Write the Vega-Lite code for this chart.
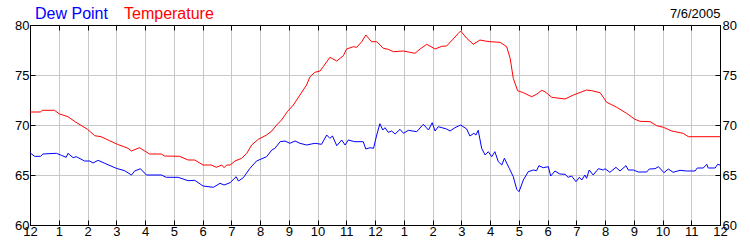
{
  "$schema": "https://vega.github.io/schema/vega-lite/v6.json",
  "width": 690,
  "height": 200,
  "autosize": {"type": "none"},
  "padding": {"left": 30, "top": 25, "right": 30, "bottom": 25},
  "background": "white",
  "config": {
    "view": {"stroke": null},
    "font": "Liberation Sans",
    "axis": {
      "labelFont": "Liberation Sans",
      "labelFontSize": 13,
      "labelColor": "#000000",
      "domainColor": "#000000",
      "domainWidth": 1,
      "tickColor": "#000000",
      "tickSize": -5,
      "tickWidth": 1,
      "gridWidth": 1,
      "labelFlush": false,
      "labelOverlap": false,
      "labelBound": false,
      "title": null
    }
  },
  "datasets": {
    "weather": [
      {"hour": 0, "series": "Temperature", "value": 71.3},
      {"hour": 0.37, "series": "Temperature", "value": 71.3},
      {"hour": 0.42, "series": "Temperature", "value": 71.47},
      {"hour": 0.85, "series": "Temperature", "value": 71.47},
      {"hour": 1.03, "series": "Temperature", "value": 71.1},
      {"hour": 1.32, "series": "Temperature", "value": 70.83},
      {"hour": 1.6, "series": "Temperature", "value": 70.27},
      {"hour": 2.0, "series": "Temperature", "value": 69.57},
      {"hour": 2.25, "series": "Temperature", "value": 68.93},
      {"hour": 2.47, "series": "Temperature", "value": 68.83},
      {"hour": 2.77, "series": "Temperature", "value": 68.43},
      {"hour": 3.04, "series": "Temperature", "value": 68.07},
      {"hour": 3.41, "series": "Temperature", "value": 67.67},
      {"hour": 3.53, "series": "Temperature", "value": 67.4},
      {"hour": 3.81, "series": "Temperature", "value": 67.73},
      {"hour": 3.99, "series": "Temperature", "value": 67.4},
      {"hour": 4.16, "series": "Temperature", "value": 67.1},
      {"hour": 4.57, "series": "Temperature", "value": 67.1},
      {"hour": 4.68, "series": "Temperature", "value": 66.9},
      {"hour": 5.2, "series": "Temperature", "value": 66.87},
      {"hour": 5.5, "series": "Temperature", "value": 66.5},
      {"hour": 5.73, "series": "Temperature", "value": 66.5},
      {"hour": 6.02, "series": "Temperature", "value": 66.0},
      {"hour": 6.3, "series": "Temperature", "value": 66.0},
      {"hour": 6.49, "series": "Temperature", "value": 65.77},
      {"hour": 6.67, "series": "Temperature", "value": 66.0},
      {"hour": 6.75, "series": "Temperature", "value": 65.73},
      {"hour": 6.84, "series": "Temperature", "value": 66.0},
      {"hour": 6.96, "series": "Temperature", "value": 66.0},
      {"hour": 7.13, "series": "Temperature", "value": 66.4},
      {"hour": 7.36, "series": "Temperature", "value": 66.67},
      {"hour": 7.54, "series": "Temperature", "value": 67.17},
      {"hour": 7.71, "series": "Temperature", "value": 68.0},
      {"hour": 7.94, "series": "Temperature", "value": 68.57},
      {"hour": 8.23, "series": "Temperature", "value": 69.0},
      {"hour": 8.41, "series": "Temperature", "value": 69.4},
      {"hour": 8.58, "series": "Temperature", "value": 70.0},
      {"hour": 8.75, "series": "Temperature", "value": 70.5},
      {"hour": 8.95, "series": "Temperature", "value": 71.33},
      {"hour": 9.16, "series": "Temperature", "value": 72.0},
      {"hour": 9.39, "series": "Temperature", "value": 73.0},
      {"hour": 9.62, "series": "Temperature", "value": 74.0},
      {"hour": 9.74, "series": "Temperature", "value": 74.83},
      {"hour": 9.91, "series": "Temperature", "value": 75.27},
      {"hour": 10.09, "series": "Temperature", "value": 75.4},
      {"hour": 10.2, "series": "Temperature", "value": 75.83},
      {"hour": 10.43, "series": "Temperature", "value": 76.77},
      {"hour": 10.67, "series": "Temperature", "value": 76.4},
      {"hour": 10.9, "series": "Temperature", "value": 76.93},
      {"hour": 11.01, "series": "Temperature", "value": 77.6},
      {"hour": 11.25, "series": "Temperature", "value": 77.83},
      {"hour": 11.36, "series": "Temperature", "value": 77.77},
      {"hour": 11.54, "series": "Temperature", "value": 78.33},
      {"hour": 11.68, "series": "Temperature", "value": 79.0},
      {"hour": 11.88, "series": "Temperature", "value": 78.33},
      {"hour": 12.06, "series": "Temperature", "value": 78.33},
      {"hour": 12.29, "series": "Temperature", "value": 77.67},
      {"hour": 12.46, "series": "Temperature", "value": 77.57},
      {"hour": 12.64, "series": "Temperature", "value": 77.33},
      {"hour": 12.99, "series": "Temperature", "value": 77.4},
      {"hour": 13.22, "series": "Temperature", "value": 77.27},
      {"hour": 13.39, "series": "Temperature", "value": 77.17},
      {"hour": 13.57, "series": "Temperature", "value": 77.6},
      {"hour": 13.8, "series": "Temperature", "value": 78.07},
      {"hour": 14.09, "series": "Temperature", "value": 77.6},
      {"hour": 14.32, "series": "Temperature", "value": 77.87},
      {"hour": 14.49, "series": "Temperature", "value": 77.9},
      {"hour": 14.72, "series": "Temperature", "value": 78.6},
      {"hour": 14.9, "series": "Temperature", "value": 79.17},
      {"hour": 14.98, "series": "Temperature", "value": 79.4},
      {"hour": 15.19, "series": "Temperature", "value": 78.67},
      {"hour": 15.42, "series": "Temperature", "value": 78.07},
      {"hour": 15.65, "series": "Temperature", "value": 78.5},
      {"hour": 15.83, "series": "Temperature", "value": 78.4},
      {"hour": 16.0, "series": "Temperature", "value": 78.33},
      {"hour": 16.35, "series": "Temperature", "value": 78.27},
      {"hour": 16.58, "series": "Temperature", "value": 77.83},
      {"hour": 16.7, "series": "Temperature", "value": 76.67},
      {"hour": 16.81, "series": "Temperature", "value": 74.67},
      {"hour": 16.96, "series": "Temperature", "value": 73.43},
      {"hour": 17.16, "series": "Temperature", "value": 73.23},
      {"hour": 17.45, "series": "Temperature", "value": 72.83},
      {"hour": 17.62, "series": "Temperature", "value": 73.07},
      {"hour": 17.8, "series": "Temperature", "value": 73.47},
      {"hour": 17.91, "series": "Temperature", "value": 73.33},
      {"hour": 18.15, "series": "Temperature", "value": 72.77},
      {"hour": 18.61, "series": "Temperature", "value": 72.6},
      {"hour": 18.9, "series": "Temperature", "value": 73.0},
      {"hour": 19.36, "series": "Temperature", "value": 73.5},
      {"hour": 19.54, "series": "Temperature", "value": 73.43},
      {"hour": 19.83, "series": "Temperature", "value": 73.23},
      {"hour": 20.06, "series": "Temperature", "value": 72.27},
      {"hour": 20.41, "series": "Temperature", "value": 71.77},
      {"hour": 20.75, "series": "Temperature", "value": 71.17},
      {"hour": 21.04, "series": "Temperature", "value": 70.57},
      {"hour": 21.22, "series": "Temperature", "value": 70.37},
      {"hour": 21.57, "series": "Temperature", "value": 70.33},
      {"hour": 21.8, "series": "Temperature", "value": 69.93},
      {"hour": 22.03, "series": "Temperature", "value": 69.77},
      {"hour": 22.32, "series": "Temperature", "value": 69.4},
      {"hour": 22.72, "series": "Temperature", "value": 69.17},
      {"hour": 22.9, "series": "Temperature", "value": 68.83},
      {"hour": 24, "series": "Temperature", "value": 68.83},
      {"hour": 0, "series": "Dew Point", "value": 67.23},
      {"hour": 0.16, "series": "Dew Point", "value": 66.87},
      {"hour": 0.37, "series": "Dew Point", "value": 66.87},
      {"hour": 0.45, "series": "Dew Point", "value": 67.1},
      {"hour": 0.92, "series": "Dew Point", "value": 67.17},
      {"hour": 1.09, "series": "Dew Point", "value": 66.97},
      {"hour": 1.26, "series": "Dew Point", "value": 66.77},
      {"hour": 1.32, "series": "Dew Point", "value": 67.17},
      {"hour": 1.5, "series": "Dew Point", "value": 66.73},
      {"hour": 1.61, "series": "Dew Point", "value": 66.83},
      {"hour": 1.9, "series": "Dew Point", "value": 66.4},
      {"hour": 2.08, "series": "Dew Point", "value": 66.4},
      {"hour": 2.19, "series": "Dew Point", "value": 66.2},
      {"hour": 2.37, "series": "Dew Point", "value": 66.47},
      {"hour": 2.6, "series": "Dew Point", "value": 66.17},
      {"hour": 3.0, "series": "Dew Point", "value": 65.67},
      {"hour": 3.29, "series": "Dew Point", "value": 65.43},
      {"hour": 3.53, "series": "Dew Point", "value": 65.0},
      {"hour": 3.64, "series": "Dew Point", "value": 65.4},
      {"hour": 3.84, "series": "Dew Point", "value": 65.63},
      {"hour": 4.05, "series": "Dew Point", "value": 65.0},
      {"hour": 4.57, "series": "Dew Point", "value": 65.0},
      {"hour": 4.74, "series": "Dew Point", "value": 64.77},
      {"hour": 5.15, "series": "Dew Point", "value": 64.77},
      {"hour": 5.5, "series": "Dew Point", "value": 64.43},
      {"hour": 5.73, "series": "Dew Point", "value": 64.47},
      {"hour": 6.02, "series": "Dew Point", "value": 63.9},
      {"hour": 6.38, "series": "Dew Point", "value": 63.77},
      {"hour": 6.61, "series": "Dew Point", "value": 64.17},
      {"hour": 6.75, "series": "Dew Point", "value": 64.0},
      {"hour": 6.96, "series": "Dew Point", "value": 64.23},
      {"hour": 7.17, "series": "Dew Point", "value": 64.83},
      {"hour": 7.25, "series": "Dew Point", "value": 64.4},
      {"hour": 7.42, "series": "Dew Point", "value": 64.73},
      {"hour": 7.65, "series": "Dew Point", "value": 65.67},
      {"hour": 7.88, "series": "Dew Point", "value": 66.4},
      {"hour": 8.23, "series": "Dew Point", "value": 66.83},
      {"hour": 8.41, "series": "Dew Point", "value": 67.5},
      {"hour": 8.52, "series": "Dew Point", "value": 67.67},
      {"hour": 8.7, "series": "Dew Point", "value": 68.33},
      {"hour": 8.87, "series": "Dew Point", "value": 68.4},
      {"hour": 9.04, "series": "Dew Point", "value": 68.17},
      {"hour": 9.22, "series": "Dew Point", "value": 68.4},
      {"hour": 9.39, "series": "Dew Point", "value": 68.17},
      {"hour": 9.62, "series": "Dew Point", "value": 68.0},
      {"hour": 9.91, "series": "Dew Point", "value": 68.17},
      {"hour": 10.14, "series": "Dew Point", "value": 68.07},
      {"hour": 10.32, "series": "Dew Point", "value": 69.0},
      {"hour": 10.43, "series": "Dew Point", "value": 68.67},
      {"hour": 10.52, "series": "Dew Point", "value": 68.9},
      {"hour": 10.67, "series": "Dew Point", "value": 67.93},
      {"hour": 10.84, "series": "Dew Point", "value": 68.5},
      {"hour": 10.96, "series": "Dew Point", "value": 68.0},
      {"hour": 11.07, "series": "Dew Point", "value": 68.5},
      {"hour": 11.3, "series": "Dew Point", "value": 68.33},
      {"hour": 11.59, "series": "Dew Point", "value": 68.33},
      {"hour": 11.68, "series": "Dew Point", "value": 67.6},
      {"hour": 11.83, "series": "Dew Point", "value": 67.73},
      {"hour": 11.95, "series": "Dew Point", "value": 67.67},
      {"hour": 12.06, "series": "Dew Point", "value": 69.0},
      {"hour": 12.17, "series": "Dew Point", "value": 70.13},
      {"hour": 12.27, "series": "Dew Point", "value": 69.5},
      {"hour": 12.35, "series": "Dew Point", "value": 69.73},
      {"hour": 12.46, "series": "Dew Point", "value": 69.27},
      {"hour": 12.58, "series": "Dew Point", "value": 69.4},
      {"hour": 12.7, "series": "Dew Point", "value": 69.1},
      {"hour": 12.87, "series": "Dew Point", "value": 69.57},
      {"hour": 12.99, "series": "Dew Point", "value": 69.17},
      {"hour": 13.16, "series": "Dew Point", "value": 69.47},
      {"hour": 13.45, "series": "Dew Point", "value": 69.33},
      {"hour": 13.68, "series": "Dew Point", "value": 70.07},
      {"hour": 13.86, "series": "Dew Point", "value": 69.5},
      {"hour": 13.99, "series": "Dew Point", "value": 70.23},
      {"hour": 14.09, "series": "Dew Point", "value": 69.4},
      {"hour": 14.2, "series": "Dew Point", "value": 69.83},
      {"hour": 14.49, "series": "Dew Point", "value": 69.6},
      {"hour": 14.61, "series": "Dew Point", "value": 69.4},
      {"hour": 14.78, "series": "Dew Point", "value": 69.73},
      {"hour": 14.98, "series": "Dew Point", "value": 70.0},
      {"hour": 15.19, "series": "Dew Point", "value": 69.6},
      {"hour": 15.3, "series": "Dew Point", "value": 68.9},
      {"hour": 15.44, "series": "Dew Point", "value": 69.17},
      {"hour": 15.51, "series": "Dew Point", "value": 69.0},
      {"hour": 15.59, "series": "Dew Point", "value": 69.47},
      {"hour": 15.71, "series": "Dew Point", "value": 67.67},
      {"hour": 15.83, "series": "Dew Point", "value": 67.0},
      {"hour": 15.94, "series": "Dew Point", "value": 67.33},
      {"hour": 16.06, "series": "Dew Point", "value": 66.83},
      {"hour": 16.17, "series": "Dew Point", "value": 67.33},
      {"hour": 16.29, "series": "Dew Point", "value": 66.33},
      {"hour": 16.41, "series": "Dew Point", "value": 66.0},
      {"hour": 16.5, "series": "Dew Point", "value": 66.67},
      {"hour": 16.67, "series": "Dew Point", "value": 65.67},
      {"hour": 16.81, "series": "Dew Point", "value": 64.83},
      {"hour": 16.93, "series": "Dew Point", "value": 63.57},
      {"hour": 17.01, "series": "Dew Point", "value": 63.33},
      {"hour": 17.16, "series": "Dew Point", "value": 64.5},
      {"hour": 17.33, "series": "Dew Point", "value": 65.33},
      {"hour": 17.51, "series": "Dew Point", "value": 65.5},
      {"hour": 17.62, "series": "Dew Point", "value": 65.43},
      {"hour": 17.7, "series": "Dew Point", "value": 65.93},
      {"hour": 17.85, "series": "Dew Point", "value": 65.73},
      {"hour": 18.03, "series": "Dew Point", "value": 65.83},
      {"hour": 18.11, "series": "Dew Point", "value": 64.9},
      {"hour": 18.26, "series": "Dew Point", "value": 65.4},
      {"hour": 18.43, "series": "Dew Point", "value": 65.1},
      {"hour": 18.61, "series": "Dew Point", "value": 65.07},
      {"hour": 18.72, "series": "Dew Point", "value": 64.77},
      {"hour": 18.84, "series": "Dew Point", "value": 64.9},
      {"hour": 18.99, "series": "Dew Point", "value": 64.33},
      {"hour": 19.11, "series": "Dew Point", "value": 64.77},
      {"hour": 19.19, "series": "Dew Point", "value": 64.5},
      {"hour": 19.3, "series": "Dew Point", "value": 65.0},
      {"hour": 19.36, "series": "Dew Point", "value": 64.67},
      {"hour": 19.45, "series": "Dew Point", "value": 65.5},
      {"hour": 19.59, "series": "Dew Point", "value": 65.0},
      {"hour": 19.77, "series": "Dew Point", "value": 65.63},
      {"hour": 19.94, "series": "Dew Point", "value": 65.5},
      {"hour": 20.0, "series": "Dew Point", "value": 65.63},
      {"hour": 20.17, "series": "Dew Point", "value": 65.27},
      {"hour": 20.38, "series": "Dew Point", "value": 65.77},
      {"hour": 20.52, "series": "Dew Point", "value": 65.4},
      {"hour": 20.73, "series": "Dew Point", "value": 65.93},
      {"hour": 20.81, "series": "Dew Point", "value": 65.5},
      {"hour": 20.99, "series": "Dew Point", "value": 65.5},
      {"hour": 21.16, "series": "Dew Point", "value": 65.3},
      {"hour": 21.45, "series": "Dew Point", "value": 65.3},
      {"hour": 21.54, "series": "Dew Point", "value": 65.6},
      {"hour": 21.74, "series": "Dew Point", "value": 65.63},
      {"hour": 21.86, "series": "Dew Point", "value": 65.83},
      {"hour": 22.05, "series": "Dew Point", "value": 65.23},
      {"hour": 22.2, "series": "Dew Point", "value": 65.6},
      {"hour": 22.37, "series": "Dew Point", "value": 65.27},
      {"hour": 22.61, "series": "Dew Point", "value": 65.47},
      {"hour": 22.84, "series": "Dew Point", "value": 65.4},
      {"hour": 23.13, "series": "Dew Point", "value": 65.4},
      {"hour": 23.21, "series": "Dew Point", "value": 65.7},
      {"hour": 23.42, "series": "Dew Point", "value": 65.7},
      {"hour": 23.54, "series": "Dew Point", "value": 66.07},
      {"hour": 23.59, "series": "Dew Point", "value": 65.7},
      {"hour": 23.83, "series": "Dew Point", "value": 65.7},
      {"hour": 23.92, "series": "Dew Point", "value": 66.07},
      {"hour": 24, "series": "Dew Point", "value": 66.0}
    ]
  },
  "data": {"name": "weather"},
  "layer": [
    {
      "transform": [{"filter": "datum.series === 'Dew Point'"}],
      "mark": {"type": "line", "strokeWidth": 1, "interpolate": "linear"},
      "encoding": {
        "x": {
          "field": "hour", "type": "quantitative",
          "scale": {"domain": [0, 24], "nice": false, "zero": false},
          "axis": {
            "orient": "bottom",
            "values": [0,1,2,3,4,5,6,7,8,9,10,11,12,13,14,15,16,17,18,19,20,21,22,23,24],
            "labelExpr": "datum.value % 12 === 0 ? '12' : '' + (datum.value % 12)",
            "grid": true,
            "gridColor": {"condition": {"test": "datum.value === 0 || datum.value === 24", "value": "#000000"}, "value": "#c8c8c8"},
            "labelPadding": 5
          }
        },
        "y": {
          "field": "value", "type": "quantitative",
          "scale": {"domain": [60, 80], "nice": false, "zero": false},
          "axis": {
            "orient": "left",
            "values": [60, 65, 70, 75, 80],
            "grid": true,
            "gridColor": {"condition": {"test": "datum.value === 60 || datum.value === 80", "value": "#000000"}, "value": "#c8c8c8"},
            "labelPadding": 6
          }
        },
        "color": {
          "field": "series", "type": "nominal",
          "scale": {"domain": ["Dew Point", "Temperature"], "range": ["#0000ff", "#ff0000"]},
          "legend": {
            "orient": "none",
            "legendX": -11,
            "legendY": -19,
            "direction": "horizontal",
            "title": null,
            "symbolSize": 0,
            "symbolStrokeWidth": 0,
            "symbolOpacity": 0,
            "labelOffset": 0,
            "columnPadding": 0,
            "gridAlign": "none",
            "padding": 0,
            "labelFont": "Liberation Sans",
            "labelFontSize": 16,
            "encode": {
              "labels": {
                "update": {
                  "fill": {"signal": "datum.label === 'Dew Point' ? '#0000ff' : '#ff0000'"}
                }
              }
            }
          }
        }
      }
    },
    {
      "transform": [{"filter": "datum.series === 'Temperature'"}],
      "mark": {"type": "line", "strokeWidth": 1, "interpolate": "linear"},
      "encoding": {
        "x": {
          "field": "hour", "type": "quantitative",
          "scale": {"domain": [0, 24], "nice": false, "zero": false},
          "axis": {
            "orient": "top",
            "values": [0,1,2,3,4,5,6,7,8,9,10,11,12,13,14,15,16,17,18,19,20,21,22,23,24],
            "labels": false,
            "grid": false,
            "title": "7/6/2005",
            "titleFont": "Liberation Sans",
            "titleFontSize": 13,
            "titleFontWeight": "normal",
            "titleColor": "#000000",
            "titleAnchor": "end",
            "titleAlign": "right",
            "titlePadding": 4,
            "zindex": 1
          }
        },
        "y": {
          "field": "value", "type": "quantitative",
          "scale": {"domain": [60, 80], "nice": false, "zero": false},
          "axis": {
            "orient": "right",
            "values": [60, 65, 70, 75, 80],
            "grid": false,
            "labelPadding": 7,
            "zindex": 1
          }
        },
        "color": {
          "field": "series", "type": "nominal",
          "scale": {"domain": ["Dew Point", "Temperature"], "range": ["#0000ff", "#ff0000"]}
        }
      }
    }
  ],
  "resolve": {"axis": {"x": "independent", "y": "independent"}}
}
